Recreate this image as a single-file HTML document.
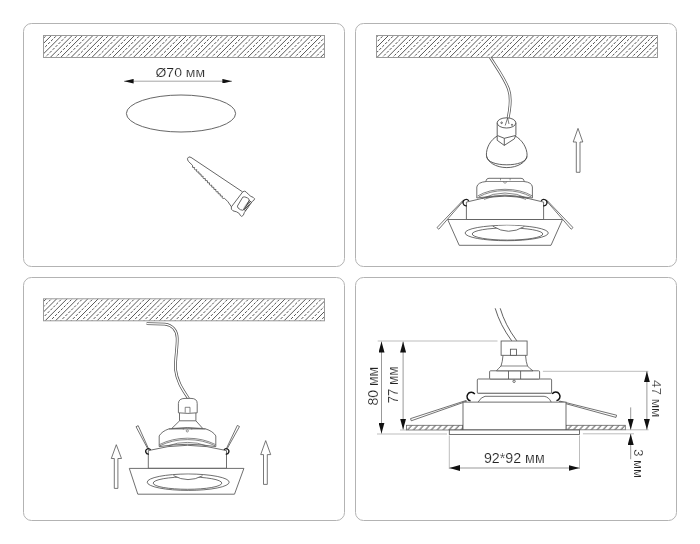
<!DOCTYPE html>
<html><head><meta charset="utf-8">
<style>
html,body{margin:0;padding:0;background:#fff;width:700px;height:544px;overflow:hidden}
svg{display:block;filter:grayscale(1)}
text{font-family:"Liberation Sans",sans-serif;fill:#222;stroke:#fff;stroke-width:0.18px;paint-order:normal}
</style></head>
<body>
<svg width="700" height="544" viewBox="0 0 700 544">
<defs>
<pattern id="hatch" patternUnits="userSpaceOnUse" width="7.35" height="8" patternTransform="rotate(45)">
<line x1="3.9" y1="0" x2="3.9" y2="8" stroke="#5a5a5a" stroke-width="0.8"/>
<line x1="0.23" y1="0" x2="0.23" y2="8" stroke="#7a7a7a" stroke-width="0.8" stroke-dasharray="2 2"/>
<line x1="7.58" y1="0" x2="7.58" y2="8" stroke="#7a7a7a" stroke-width="0.8" stroke-dasharray="2 2"/>
</pattern>
<pattern id="hatch2" patternUnits="userSpaceOnUse" width="4.4" height="6" patternTransform="rotate(42)">
<line x1="1" y1="0" x2="1" y2="6" stroke="#555" stroke-width="1"/>
</pattern>
<marker id="ah" viewBox="0 0 10 6" refX="10" refY="3" markerWidth="11" markerHeight="6" markerUnits="userSpaceOnUse" orient="auto-start-reverse" preserveAspectRatio="none">
<path d="M0,0 L10,3 L0,6 z" fill="#111"/>
</marker>
<marker id="ah1" viewBox="0 0 10 6" refX="10" refY="3" markerWidth="9.6" markerHeight="4.6" markerUnits="userSpaceOnUse" orient="auto-start-reverse" preserveAspectRatio="none">
<path d="M0,0 L10,3 L0,6 z" fill="#111"/>
</marker>
</defs>

<!-- panels -->
<g fill="none" stroke="#b3b3b3" stroke-width="1">
<rect x="23.5" y="23.5" width="321" height="243" rx="8"/>
<rect x="355.5" y="23.5" width="321" height="243" rx="8"/>
<rect x="23.5" y="277.5" width="321" height="243" rx="8"/>
<rect x="355.5" y="277.5" width="321" height="243" rx="8"/>
</g>

<!-- hatched bars -->
<clipPath id="c1"><rect x="43.5" y="35.5" width="281.0" height="22.0"/></clipPath>
<g clip-path="url(#c1)">
<path d="M18.03,58.50 L42.03,34.50 M28.42,58.50 L52.42,34.50 M38.81,58.50 L62.81,34.50 M49.20,58.50 L73.20,34.50 M59.59,58.50 L83.59,34.50 M69.98,58.50 L93.98,34.50 M80.37,58.50 L104.37,34.50 M90.76,58.50 L114.76,34.50 M101.15,58.50 L125.15,34.50 M111.54,58.50 L135.54,34.50 M121.93,58.50 L145.93,34.50 M132.32,58.50 L156.32,34.50 M142.71,58.50 L166.71,34.50 M153.10,58.50 L177.10,34.50 M163.49,58.50 L187.49,34.50 M173.88,58.50 L197.88,34.50 M184.27,58.50 L208.27,34.50 M194.66,58.50 L218.66,34.50 M205.05,58.50 L229.05,34.50 M215.44,58.50 L239.44,34.50 M225.83,58.50 L249.83,34.50 M236.22,58.50 L260.22,34.50 M246.61,58.50 L270.61,34.50 M257.00,58.50 L281.00,34.50 M267.39,58.50 L291.39,34.50 M277.78,58.50 L301.78,34.50 M288.17,58.50 L312.17,34.50 M298.56,58.50 L322.56,34.50 M308.95,58.50 L332.95,34.50 M319.34,58.50 L343.34,34.50 M329.73,58.50 L353.73,34.50" stroke="#444" stroke-width="0.9" fill="none"/>
<path d="M23.22,58.50 L47.22,34.50 M33.62,58.50 L57.62,34.50 M44.00,58.50 L68.00,34.50 M54.40,58.50 L78.40,34.50 M64.78,58.50 L88.78,34.50 M75.18,58.50 L99.18,34.50 M85.56,58.50 L109.56,34.50 M95.95,58.50 L119.95,34.50 M106.34,58.50 L130.34,34.50 M116.73,58.50 L140.73,34.50 M127.12,58.50 L151.12,34.50 M137.51,58.50 L161.51,34.50 M147.90,58.50 L171.90,34.50 M158.29,58.50 L182.29,34.50 M168.68,58.50 L192.68,34.50 M179.07,58.50 L203.07,34.50 M189.46,58.50 L213.46,34.50 M199.85,58.50 L223.85,34.50 M210.24,58.50 L234.24,34.50 M220.63,58.50 L244.63,34.50 M231.02,58.50 L255.02,34.50 M241.41,58.50 L265.41,34.50 M251.80,58.50 L275.80,34.50 M262.19,58.50 L286.19,34.50 M272.58,58.50 L296.58,34.50 M282.97,58.50 L306.97,34.50 M293.36,58.50 L317.36,34.50 M303.75,58.50 L327.75,34.50 M314.14,58.50 L338.14,34.50 M324.53,58.50 L348.53,34.50 M334.92,58.50 L358.92,34.50" stroke="#3a3a3a" stroke-width="0.9" fill="none" stroke-dasharray="2.6 1.5"/>
</g>
<rect x="43.5" y="35.5" width="281.0" height="22.0" fill="none" stroke="#999" stroke-width="1"/>
<clipPath id="c2"><rect x="376.5" y="35.5" width="281.0" height="22.0"/></clipPath>
<g clip-path="url(#c2)">
<path d="M344.72,58.50 L368.72,34.50 M355.11,58.50 L379.11,34.50 M365.50,58.50 L389.50,34.50 M375.89,58.50 L399.89,34.50 M386.28,58.50 L410.28,34.50 M396.67,58.50 L420.67,34.50 M407.06,58.50 L431.06,34.50 M417.45,58.50 L441.45,34.50 M427.84,58.50 L451.84,34.50 M438.23,58.50 L462.23,34.50 M448.62,58.50 L472.62,34.50 M459.01,58.50 L483.01,34.50 M469.40,58.50 L493.40,34.50 M479.79,58.50 L503.79,34.50 M490.18,58.50 L514.18,34.50 M500.57,58.50 L524.57,34.50 M510.96,58.50 L534.96,34.50 M521.35,58.50 L545.35,34.50 M531.74,58.50 L555.74,34.50 M542.13,58.50 L566.13,34.50 M552.52,58.50 L576.52,34.50 M562.91,58.50 L586.91,34.50 M573.30,58.50 L597.30,34.50 M583.69,58.50 L607.69,34.50 M594.08,58.50 L618.08,34.50 M604.47,58.50 L628.47,34.50 M614.86,58.50 L638.86,34.50 M625.25,58.50 L649.25,34.50 M635.64,58.50 L659.64,34.50 M646.03,58.50 L670.03,34.50 M656.42,58.50 L680.42,34.50 M666.81,58.50 L690.81,34.50" stroke="#444" stroke-width="0.9" fill="none"/>
<path d="M349.92,58.50 L373.92,34.50 M360.31,58.50 L384.31,34.50 M370.69,58.50 L394.69,34.50 M381.08,58.50 L405.08,34.50 M391.47,58.50 L415.47,34.50 M401.86,58.50 L425.86,34.50 M412.25,58.50 L436.25,34.50 M422.64,58.50 L446.64,34.50 M433.03,58.50 L457.03,34.50 M443.42,58.50 L467.42,34.50 M453.81,58.50 L477.81,34.50 M464.20,58.50 L488.20,34.50 M474.59,58.50 L498.59,34.50 M484.98,58.50 L508.98,34.50 M495.37,58.50 L519.37,34.50 M505.76,58.50 L529.76,34.50 M516.15,58.50 L540.15,34.50 M526.54,58.50 L550.54,34.50 M536.93,58.50 L560.93,34.50 M547.32,58.50 L571.32,34.50 M557.71,58.50 L581.71,34.50 M568.10,58.50 L592.10,34.50 M578.49,58.50 L602.49,34.50 M588.88,58.50 L612.88,34.50 M599.27,58.50 L623.27,34.50 M609.66,58.50 L633.66,34.50 M620.05,58.50 L644.05,34.50 M630.44,58.50 L654.44,34.50 M640.83,58.50 L664.83,34.50 M651.22,58.50 L675.22,34.50 M661.61,58.50 L685.61,34.50 M672.00,58.50 L696.00,34.50" stroke="#3a3a3a" stroke-width="0.9" fill="none" stroke-dasharray="2.6 1.5"/>
</g>
<rect x="376.5" y="35.5" width="281.0" height="22.0" fill="none" stroke="#999" stroke-width="1"/>
<clipPath id="c3"><rect x="43.5" y="298.8" width="281.0" height="22.0"/></clipPath>
<g clip-path="url(#c3)">
<path d="M12.88,321.80 L36.88,297.80 M23.27,321.80 L47.27,297.80 M33.66,321.80 L57.66,297.80 M44.05,321.80 L68.05,297.80 M54.44,321.80 L78.44,297.80 M64.83,321.80 L88.83,297.80 M75.22,321.80 L99.22,297.80 M85.61,321.80 L109.61,297.80 M96.00,321.80 L120.00,297.80 M106.39,321.80 L130.39,297.80 M116.78,321.80 L140.78,297.80 M127.17,321.80 L151.17,297.80 M137.56,321.80 L161.56,297.80 M147.95,321.80 L171.95,297.80 M158.34,321.80 L182.34,297.80 M168.73,321.80 L192.73,297.80 M179.12,321.80 L203.12,297.80 M189.51,321.80 L213.51,297.80 M199.90,321.80 L223.90,297.80 M210.29,321.80 L234.29,297.80 M220.68,321.80 L244.68,297.80 M231.07,321.80 L255.07,297.80 M241.46,321.80 L265.46,297.80 M251.85,321.80 L275.85,297.80 M262.24,321.80 L286.24,297.80 M272.63,321.80 L296.63,297.80 M283.02,321.80 L307.02,297.80 M293.41,321.80 L317.41,297.80 M303.80,321.80 L327.80,297.80 M314.19,321.80 L338.19,297.80 M324.58,321.80 L348.58,297.80" stroke="#444" stroke-width="0.9" fill="none"/>
<path d="M18.07,321.80 L42.07,297.80 M28.46,321.80 L52.46,297.80 M38.85,321.80 L62.85,297.80 M49.24,321.80 L73.24,297.80 M59.63,321.80 L83.63,297.80 M70.02,321.80 L94.02,297.80 M80.41,321.80 L104.41,297.80 M90.80,321.80 L114.80,297.80 M101.19,321.80 L125.19,297.80 M111.58,321.80 L135.58,297.80 M121.97,321.80 L145.97,297.80 M132.36,321.80 L156.36,297.80 M142.75,321.80 L166.75,297.80 M153.14,321.80 L177.14,297.80 M163.53,321.80 L187.53,297.80 M173.92,321.80 L197.92,297.80 M184.31,321.80 L208.31,297.80 M194.70,321.80 L218.70,297.80 M205.09,321.80 L229.09,297.80 M215.48,321.80 L239.48,297.80 M225.87,321.80 L249.87,297.80 M236.26,321.80 L260.26,297.80 M246.65,321.80 L270.65,297.80 M257.04,321.80 L281.04,297.80 M267.43,321.80 L291.43,297.80 M277.82,321.80 L301.82,297.80 M288.21,321.80 L312.21,297.80 M298.60,321.80 L322.60,297.80 M308.99,321.80 L332.99,297.80 M319.38,321.80 L343.38,297.80 M329.77,321.80 L353.77,297.80" stroke="#3a3a3a" stroke-width="0.9" fill="none" stroke-dasharray="2.6 1.5"/>
</g>
<rect x="43.5" y="298.8" width="281.0" height="22.0" fill="none" stroke="#999" stroke-width="1"/>

<!-- ============ PANEL 1 ============ -->
<text x="155.5" y="77" font-size="13.6" textLength="49.5" lengthAdjust="spacingAndGlyphs">Ø70 мм</text>
<line x1="124" y1="81.2" x2="232" y2="81.2" stroke="#a5a5a5" stroke-width="1" marker-start="url(#ah1)" marker-end="url(#ah1)"/>
<ellipse cx="181" cy="113.5" rx="54.6" ry="18.5" fill="none" stroke="#555" stroke-width="0.9"/>

<!-- saw -->
<g fill="none" stroke="#555" stroke-width="0.9" stroke-linejoin="round">
<path d="M242.6,191.9 L191,157.4 Q188.5,156 187.6,158.2 Q187.2,160 188.6,161.6 L192.5,165.3 Q191.6,168.3 194.6,167.5 Q193.7,170.5 196.8,169.7 Q195.8,172.7 198.9,171.9 Q198.0,174.9 201.0,174.1 Q200.1,177.1 203.2,176.3 Q202.2,179.3 205.3,178.5 Q204.4,181.5 207.4,180.7 Q206.5,183.7 209.6,182.9 Q208.6,185.9 211.7,185.1 Q210.8,188.1 213.8,187.3 Q212.9,190.3 216.0,189.5 Q215.0,192.5 218.1,191.7 Q217.2,194.7 220.2,193.9 Q219.3,196.9 222.4,196.1 Q221.4,199.1 224.5,198.3 Q228,201 231.4,206.8"/>
<path d="M242.8,191.8 Q244.5,190.6 246,191.8 Q248,194.2 250.9,196.4 Q253.5,197 254.6,198.8 Q254.3,200.5 252.4,201.3 L244.3,212.6 Q243.8,215.8 241.7,216.4 Q240,215.8 239.4,213.6 Q237.2,211.6 233,210.8 Q230.6,209.6 231.4,206.8 Z"/>
<path d="M242.8,197.1 Q244.4,196.3 247.4,197.9 Q249.8,199.1 249.1,200.7 L244.4,209.1 Q243.2,211.1 240.4,209.7 Q237.2,208.1 237.4,206.1 Z"/>
<path d="M248.8,200.4 L251.4,202.2 M248.0,201.6 L250.6,203.4 M247.1,202.8 L249.8,204.6 M246.3,204.0 L249.0,205.8 M245.5,205.2 L248.2,207.0 M244.7,206.4 L247.4,208.2 M243.9,207.6 L246.6,209.4 M243.1,208.8 L245.7,210.6" stroke="#333" stroke-width="0.9"/>
</g>

<!-- ============ PANEL 2 ============ -->
<!-- cable -->
<path d="M490.3,57.5 C497,68 505,79 508.5,89 C511,96 510.5,108 507.4,121" fill="none" stroke="#555" stroke-width="2.8"/>
<path d="M490.3,57.5 C497,68 505,79 508.5,89 C511,96 510.5,108 507.4,121" fill="none" stroke="#fff" stroke-width="1.3"/>
<!-- bulb -->
<g fill="#fff" stroke="#444" stroke-width="0.85" stroke-linejoin="round">
<path d="M497.7,135.8 C490,140 486.3,148 486.4,155 C486.8,162 496,167.6 506.8,167.6 C517.6,167.6 527,162 527.1,155 C527,148 522.5,140 514.9,135.8 Z"/>
<path d="M486.6,156.5 C487.5,162 496,164.8 506.8,164.8 C517.6,164.8 526,162 527,156.5" fill="none"/>
<path d="M497.2,122.8 L497.2,140.3 L504.3,145.4 L514.4,138.8 L515.9,134.8 L515.9,122.8"/>
<ellipse cx="506.5" cy="122.9" rx="9.35" ry="5.1"/>
<path d="M497.6,135.6 L504.3,138.3 L515.2,135.6 M504.3,138.3 L504.3,145.4" fill="none"/>
<circle cx="501.6" cy="122.8" r="0.8"/>
<circle cx="512" cy="124.8" r="0.6"/>
<path d="M505.2,125.5 L507.6,118 L509,124" fill="none" stroke-width="0.7"/>
</g>
<!-- arrow up -->
<path d="M578,128.4 L582.8,142 L580,142 L580,172.3 L576.3,172.3 L576.3,142 L573.2,142 Z" fill="#fff" stroke="#555" stroke-width="0.8" stroke-linejoin="miter"/>

<!-- fixture -->
<g fill="#fff" stroke="#555" stroke-width="0.85">
<!-- springs -->
<path d="M462.84,200.56 L437.01,227.59 L438.79,229.21 L463.36,201.04 Z" fill="#fff" stroke="#444" stroke-width="0.75" stroke-linejoin="round"/>
<path d="M546.64,201.04 L571.21,229.21 L572.99,227.59 L547.16,200.56 Z" fill="#fff" stroke="#444" stroke-width="0.75" stroke-linejoin="round"/>
<!-- body -->
<path d="M466.4,219.5 L466.4,202.1 Q505,190 543.6,202.1 L543.6,219.5 Z"/>
<!-- ring -->
<path d="M476.8,198 L476.8,187 Q477.5,182.3 486.2,181.5 L486.2,180.2 Q486.8,178.3 489,178.3 L521,178.3 Q523.3,178.3 523.9,180.2 L523.9,181.5 Q532,182.3 532.4,187 L532.4,198 Q505,193.6 476.8,198 Z"/>
<path d="M486.2,181.5 L523.9,181.5" fill="none" stroke-width="0.7"/>
<path d="M477.6,196 Q489,189.3 505,189.3 Q521,189.3 532.4,196" fill="none" stroke-width="0.7"/>
<path d="M478.6,197 Q490,190.6 505,190.6 Q520,190.6 531.4,197" fill="none" stroke-width="0.7"/>
<path d="M482,198.6 Q493,193 505,193 Q517,193 528,198.6" fill="none" stroke-width="0.7"/>
<path d="M484,199.4 Q494,195 505,195 Q516,195 526,199.4" fill="none" stroke-width="0.7"/>
<path d="M500.5,178.3 L500.5,180.3 M510.1,178.3 L510.1,180.3" fill="none" stroke-width="0.6"/>
<path d="M503.3,181.5 Q503.6,183.2 505,183.2 Q506.4,183.2 506.7,181.5" fill="none" stroke-width="0.6"/>
<!-- pivots -->
<path d="M468.82,200.76 A3.2,3.2 0 1 0 466.76,205.75" fill="none" stroke="#1a1a1a" stroke-width="1.3"/>
<path d="M541.18,200.76 A3.2,3.2 0 1 1 543.24,205.75" fill="none" stroke="#1a1a1a" stroke-width="1.3"/>
<!-- trapezoid -->
<path d="M447.7,219.5 L562.5,219.5 L551,245.3 L459.2,245.3 Z"/>
<ellipse cx="506.7" cy="233" rx="41.6" ry="7.7" fill="none"/>
<ellipse cx="507.5" cy="234" rx="35.3" ry="6.1" fill="none"/>
<path d="M492.8,226.2 Q508.5,236.2 524.3,226.5 Q508.5,224.6 492.8,226.2 Z" stroke="none"/>
<path d="M492.8,226.2 Q508.5,236.2 524.3,226.5" fill="none"/>
</g>

<!-- ============ PANEL 3 ============ -->
<!-- cable -->
<path d="M146.6,323.6 L164.8,324.1 C172,325 177,330 177.2,338 C177.5,348 175,358 175.5,369.5 C177,382 183,390 188.5,398.5" fill="none" stroke="#555" stroke-width="2.8"/>
<path d="M146.6,323.6 L164.8,324.1 C172,325 177,330 177.2,338 C177.5,348 175,358 175.5,369.5 C177,382 183,390 188.5,398.5" fill="none" stroke="#fff" stroke-width="1.3"/>
<!-- arrows -->
<path d="M116.3,444.7 L121.5,458.5 L117.9,458.5 L117.9,488.4 L114.3,488.4 L114.3,458.5 L111.3,458.5 Z" fill="#fff" stroke="#555" stroke-width="0.8"/>
<path d="M265.7,440.6 L270.7,454.6 L267.3,454.6 L267.3,484.4 L263.5,484.4 L263.5,454.6 L260.7,454.6 Z" fill="#fff" stroke="#555" stroke-width="0.8"/>
<g fill="#fff" stroke="#555" stroke-width="0.85">
<!-- springs up -->
<path d="M148.71,449.15 L138.18,425.67 L136.02,426.73 L148.09,449.45 Z" fill="#fff" stroke="#444" stroke-width="0.75" stroke-linejoin="round"/>
<path d="M226.91,449.16 L239.47,426.55 L237.33,425.45 L226.29,448.84 Z" fill="#fff" stroke="#444" stroke-width="0.75" stroke-linejoin="round"/>
<!-- body -->
<path d="M148.3,468.3 L148.3,450.6 Q187.5,440 226.5,450.6 L226.5,468.3 Z"/>
<path d="M150.61,449.85 A2.7,2.7 0 1 0 148.87,454.06" fill="none" stroke="#1a1a1a" stroke-width="1.3"/>
<path d="M223.99,449.85 A2.7,2.7 0 1 1 225.73,454.06" fill="none" stroke="#1a1a1a" stroke-width="1.3"/>
<!-- ring -->
<path d="M168.9,428.9 Q162,431.2 159.2,435.9 L159.2,446.6 Q187.5,442 215.8,446.6 L215.8,435.9 Q213,431.2 205.6,428.9 Z"/>
<path d="M159.4,444.6 Q172,438.2 187.5,438.2 Q203,438.2 215.6,444.6" fill="none" stroke-width="0.7"/>
<path d="M159.8,445.8 Q172,439.6 187.5,439.6 Q203,439.6 215.2,445.8" fill="none" stroke-width="0.7"/>
<path d="M168.9,445.6 Q177,442.4 187.5,442.4 Q198,442.4 205.6,445.6" fill="none" stroke-width="0.7"/>
<!-- plate -->
<path d="M168.9,428.9 Q187.5,426.8 205.6,428.9" fill="none" stroke-width="0.7"/>
<path d="M183.3,428.2 L183.3,429.6 M191.7,428.2 L191.7,429.6" fill="none" stroke-width="0.6"/>
<circle cx="187.3" cy="430.9" r="1.1" stroke-width="0.6"/>
<!-- cone -->
<path d="M179.6,420.8 L171.7,428.5 Q187.5,426.7 202.8,428.5 L195.9,420.8 Z" stroke="none"/>
<path d="M179.6,420.8 L171.7,428.5 M195.9,420.8 L202.8,428.5 M171.7,428.5 Q187.5,426.7 202.8,428.5" fill="none"/>
<!-- neck -->
<path d="M179.5,412.8 L179.5,420.8 L195.9,420.8 L195.9,412.8"/>
<!-- cap -->
<path d="M178.4,412.8 L178.4,403.5 Q178.6,398.4 185,398.4 L191,398.4 Q197.2,398.4 197.2,403.5 L197.2,412.8 Q188,414 178.4,412.8 Z"/>
<path d="M185.2,412.7 L185.2,407.3 L190,407.3 L190,412.7" fill="none" stroke-width="0.7"/>
<!-- trapezoid -->
<path d="M129.3,468.4 L243.9,468.4 L234.5,494.2 L137.8,494.2 Z"/>
<ellipse cx="188.2" cy="482.2" rx="41" ry="8.2" fill="none"/>
<ellipse cx="187.5" cy="483.1" rx="34.3" ry="6.2" fill="none"/>
<path d="M173.5,475.6 Q188,483.5 202.5,475.8 Q188,473.6 173.5,475.6 Z" stroke="none"/>
<path d="M173.5,475.6 Q188,483.5 202.5,475.8" fill="none"/>
</g>

<!-- ============ PANEL 4 ============ -->
<g fill="none" stroke="#bdbdbd" stroke-width="1">
<!-- extension lines -->
<path d="M377.7,341 L497.5,341"/>
<path d="M377,434 L447,434"/>
<path d="M400,430 L406.4,430"/>
<path d="M542.9,371.3 L648.4,371.3"/>
<path d="M625.3,429.8 L648.6,429.8"/>
<path d="M582.9,433.8 L634,433.8"/>
<path d="M449.3,435.5 L449.3,469"/>
<path d="M579.5,435.5 L579.5,469"/>
</g>
<g fill="none" stroke="#999" stroke-width="1">
<line x1="381.5" y1="341.5" x2="381.5" y2="433.6" marker-start="url(#ah)" marker-end="url(#ah)"/>
<line x1="403.1" y1="341.5" x2="403.1" y2="429.6" marker-start="url(#ah)" marker-end="url(#ah)"/>
<line x1="646.9" y1="371.3" x2="646.9" y2="429.8" marker-start="url(#ah)" marker-end="url(#ah)"/>
<line x1="449.3" y1="468" x2="579.5" y2="468" marker-start="url(#ah)" marker-end="url(#ah)"/>
<line x1="630.7" y1="407.4" x2="630.7" y2="429.8" marker-end="url(#ah)"/>
<line x1="630.7" y1="459.2" x2="630.7" y2="433.9" marker-end="url(#ah)"/>
</g>
<text transform="translate(377.7,405.4) rotate(-90)" font-size="14.2" textLength="38.6" lengthAdjust="spacingAndGlyphs">80 мм</text>
<text transform="translate(398.1,403.6) rotate(-90)" font-size="14.2" textLength="37" lengthAdjust="spacingAndGlyphs">77 мм</text>
<text transform="translate(651.9,379.9) rotate(90)" font-size="13.6" textLength="37.5" lengthAdjust="spacingAndGlyphs">47 мм</text>
<text transform="translate(634.3,449.3) rotate(90)" font-size="13.6" textLength="28.6" lengthAdjust="spacingAndGlyphs">3 мм</text>
<text x="483.9" y="463.4" font-size="14" textLength="60.8" lengthAdjust="spacingAndGlyphs">92*92 мм</text>

<!-- hatched strips -->
<rect x="406.4" y="425.3" width="56.2" height="4.7" fill="url(#hatch2)" stroke="#666" stroke-width="0.8"/>
<rect x="566" y="425.3" width="59.3" height="4.5" fill="url(#hatch2)" stroke="#666" stroke-width="0.8"/>

<g fill="#fff" stroke="#555" stroke-width="0.85">
<!-- cable -->
<path d="M495.2,308.3 Q500,325 511.7,340.8 M500.2,308.3 Q505,325 516.8,340.8" fill="none" stroke="#444"/>
<!-- springs -->
<path d="M466.16,400.47 L410.53,418.61 L411.27,420.79 L466.44,401.33 Z" fill="#fff" stroke="#444" stroke-width="0.75" stroke-linejoin="round"/>
<path d="M559.49,401.94 L616.01,417.41 L616.59,415.19 L559.71,401.06 Z" fill="#fff" stroke="#444" stroke-width="0.75" stroke-linejoin="round"/>
<!-- body -->
<rect x="463" y="402.1" width="103" height="27.8"/>
<!-- flange -->
<rect x="449.3" y="430" width="130.2" height="4.4"/>
<!-- lens below plate -->
<path d="M478.1,402.1 Q481,397 485,396.3 L544.1,396.3 Q549,397 551.2,402.1" fill="none"/>
<path d="M477.5,393.1 L551.6,393.1" fill="none"/>
<!-- plate 2 -->
<rect x="477.3" y="379" width="74.3" height="14.2" rx="1"/>
<!-- plate 1 -->
<rect x="489.6" y="370.8" width="50" height="8.2" rx="1"/>
<path d="M508.5,370.8 L508.5,379 M520.6,370.8 L520.6,379" fill="none"/>
<circle cx="514.1" cy="381.3" r="1.2"/>
<!-- neck -->
<path d="M503,355.3 Q502.5,362 501,366 Q498,369 496.5,370.8 L533,370.8 Q530,369 527.5,366 Q526,362 525.5,355.3" />
<path d="M501,366 L527.5,366" fill="none" stroke-width="0.7"/>
<!-- cap -->
<rect x="501.1" y="341" width="26" height="14.3"/>
<rect x="510.4" y="349.2" width="6.1" height="6.1"/>
<!-- curls -->
<path d="M474.82,394.13 A4.3,4.3 0 1 0 470.55,400.83" stroke="#111" stroke-width="1.5" fill="none"/>
<path d="M552.18,393.93 A4.3,4.3 0 1 1 556.45,400.63" stroke="#111" stroke-width="1.5" fill="none"/>
</g>

</svg>
</body></html>
